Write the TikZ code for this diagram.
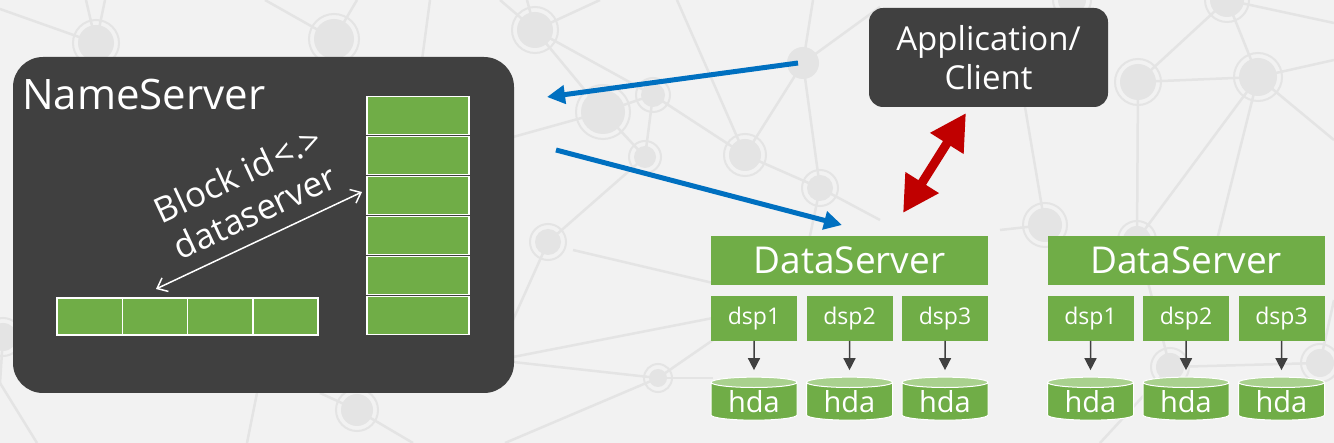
\documentclass[tikz,border=0pt]{standalone}
\usepackage{fontspec}
\setmainfont{Open Sans}
\usetikzlibrary{arrows.meta, shapes.geometric}

\definecolor{bggrey}{HTML}{F2F2F2}
\definecolor{netgrey}{HTML}{E4E4E4}
\definecolor{boxgrey}{HTML}{404040}
\definecolor{dsgreen}{HTML}{70AD47}
\definecolor{topgreen}{HTML}{A9D18E}
\definecolor{msblue}{HTML}{0070C0}
\definecolor{msred}{HTML}{C00000}

\begin{document}
\begin{tikzpicture}[
    x=1pt, y=-1pt,
    every node/.style={inner sep=0pt, outer sep=0pt, text=white},
    netline/.style={netgrey, line width=2.5pt},
    darkbox/.style={rectangle, fill=boxgrey},
    cell/.style={rectangle, fill=dsgreen, draw=white, line width=1.5pt},
    dsbox/.style={rectangle, fill=dsgreen},
    disk/.style={
        cylinder, shape border rotate=90, aspect=0.2,
        cylinder uses custom fill, cylinder body fill=dsgreen,
        cylinder end fill=topgreen, draw=white, line width=1pt,
        minimum width=86pt, minimum height=43pt,
        font=\fontsize{29}{34}\selectfont
    },
    request/.style={msblue, line width=5pt, -{Triangle[length=18pt,width=18pt]}},
    diskarrow/.style={boxgrey, line width=1.5pt, -{Triangle[length=12pt,width=12pt]}, shorten >=7pt}
]

\useasboundingbox (0,0) rectangle (1334,443);
\fill[bggrey] (0,0) rectangle (1334,443);

% Background network
\foreach \n/\x/\y in {n1/96/43, n2/334/39, n3/535/30, n4/603/112, n5/653/95,
    n6/645/157, n7/745/155, n8/803/63, n9/820/188, n10/548/242, n11/1138/82,
    n12/1258/77, n13/1227/0, n14/1045/225, n15/1137/240, n16/658/378,
    n17/357/410, n18/3/337, n19/1072/0, n20/1170/367, n21/1320/363}
    \coordinate (\n) at (\x,\y);

\foreach \a/\b in {n1/{86,0}, n1/{105,0}, n1/{0,9}, n2/{265,0}, n2/{357,0},
    n3/{500,0}, n3/{527,0}, n3/{600,0}, n4/{513,137}, n8/{813,0}, n8/{880,7},
    n9/{880,220}, n9/{807,250}, n12/{1334,60}, n12/{1334,140}, n12/{1217,240},
    n14/{1025,107}, n14/{1000,230}, n13/{1334,23}, n16/{513,362}, n16/{505,443},
    n16/{713,340}, n16/{713,378}, n10/{513,320}, n17/{320,393}, n17/{413,443},
    n18/{0,383}, n20/{1100,443}, n21/{1334,300}, n19/{1040,40}}
    \draw[netline] (\a) -- (\b);

\foreach \a/\b in {n3/n4, n3/n5, n4/n5, n5/n6, n4/n6, n5/n7, n6/n10, n7/n8,
    n7/n9, n8/n9, n11/n12, n11/n13, n11/n15, n12/n13, n12/n15, n20/n15, n21/n20}
    \draw[netline] (\a) -- (\b);

\draw[netline] (430,0) -- (422,60);
\draw[netline] (677,0) -- (n7);
\draw[netline] (513,357) -- (713,318);
\draw[netline] (573,250) -- (713,283);
\draw[netline] (257,393) -- (247,443);
\draw[netline] (0,383) -- (37,443);

\foreach \n/\r in {n1/18, n2/20, n3/18, n4/22, n5/12, n6/11, n7/16, n9/13,
    n10/13, n11/18, n12/19, n13/17, n14/17, n15/14, n16/9, n17/16, n18/14,
    n19/14, n20/14, n21/14} {
    \fill[netgrey] (\n) circle[radius=\r];
    \draw[netgrey, line width=2pt] (\n) circle[radius=\r+5];
}
\fill[netgrey] (n8) circle[radius=16];

% NameServer
\node[darkbox, rounded corners=30pt, minimum width=501pt, minimum height=336pt]
    (ns) at (263.5,225) {};
\node[anchor=base west, font=\fontsize{42}{50}\selectfont] (nslabel) at (22,110) {NameServer};

\foreach \i in {1,...,6}
    \node[cell, minimum width=102pt, minimum height=38pt] (v\i) at (418,75.5+40*\i) {};
\foreach \i in {1,...,4}
    \node[cell, minimum width=65.25pt, minimum height=37pt] (h\i) at (24.4+65.25*\i,316.5) {};

\coordinate (mapl) at (156,289);
\coordinate (mapr) at (362,192);
\draw[white, line width=1.5pt, {Straight Barb[length=9pt,width=15pt]}-{Straight Barb[length=9pt,width=15pt]}]
    (mapl) -- (mapr);
\node[rotate=25, align=center, font=\fontsize{35}{41}\selectfont] (maplabel) at (246,193)
    {Block id\kern3pt<.>\\dataserver};

% Application / Client
\node[darkbox, rounded corners=14pt, minimum width=239pt, minimum height=99pt, align=center,
    font=\fontsize{33}{39}\selectfont] (app) at (988.5,57.5) {Application/\\Client};

% DataServers
\foreach \g/\gx in {a/849.5, b/1186} {
    \node[dsbox, minimum width=277pt, minimum height=49pt, font=\fontsize{37}{44}\selectfont]
        (ds\g) at (\gx,260.5) {DataServer};
    \foreach \i/\dx in {1/-95.5, 2/0, 3/95.5} {
        \node[dsbox, minimum width=86pt, minimum height=45pt, font=\fontsize{23}{28}\selectfont]
            (dsp\g\i) at (\gx+\dx,318.5) {dsp\i};
        \node[disk] (hda\g\i) at (\gx+\dx,401.5) {hda};
        \draw[diskarrow] (dsp\g\i) -- (hda\g\i);
    }
}

% Arrows
\coordinate (askfrom) at (798,63);
\coordinate (askto) at (547,97);
\coordinate (sendfrom) at (556,150);
\coordinate (sendto) at (842,225);
\draw[request] (askfrom) -- (askto);
\draw[request] (sendfrom) -- (sendto);

\coordinate (redtop) at (966,113);
\coordinate (redbot) at (903,213);
\draw[msred, line width=9pt, {Triangle[length=36pt,width=37pt]}-{Triangle[length=36pt,width=37pt]}]
    (redbot) -- (redtop);

\end{tikzpicture}
\end{document}
